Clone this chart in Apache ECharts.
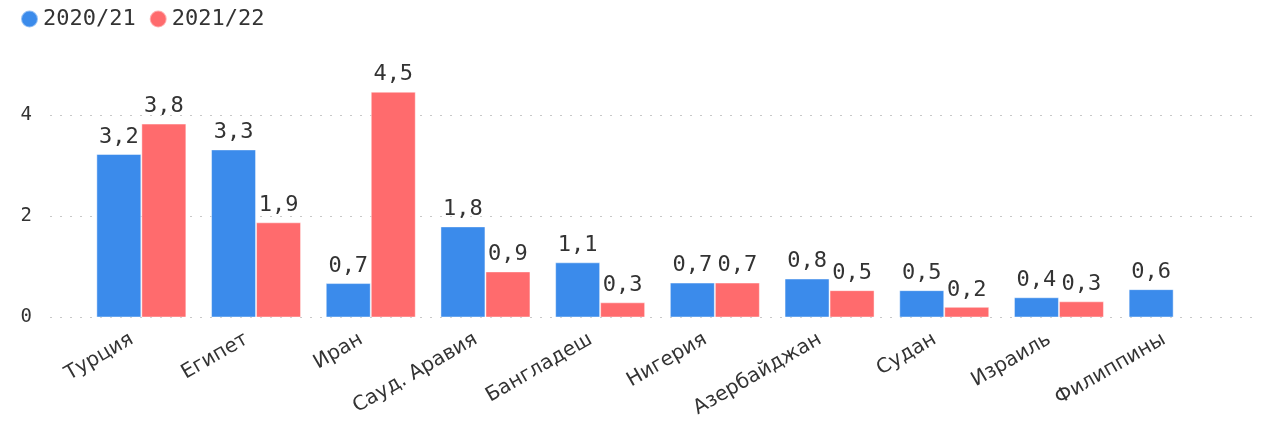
<!DOCTYPE html>
<html>
<head>
<meta charset="utf-8">
<script src="https://cdn.jsdelivr.net/npm/echarts@6/dist/echarts.min.js"></script>
<style>
html,body{margin:0;padding:0;background:#fff;}
#chart{width:1263px;height:429px;}
</style>
</head>
<body>
<div id="chart"></div>
<script>
const categories = ['Турция','Египет','Иран','Сауд. Аравия','Бангладеш','Нигерия','Азербайджан','Судан','Израиль','Филиппины'];
const seriesNames = ['2020/21','2021/22'];
const values2020 = [3.23, 3.32, 0.68, 1.80, 1.09, 0.69, 0.77, 0.54, 0.40, 0.56];
const values2021 = [3.83, 1.88, 4.46, 0.91, 0.30, 0.69, 0.54, 0.21, 0.32, null];
const yTicks = [0, 2, 4];

const colors = ['#3b8beb', '#ff6b6d'];
const mono = '"DejaVu Sans Mono", monospace';
const sans = '"DejaVu Sans", sans-serif';
const fmt = v => (Math.round(v * 10) / 10).toFixed(1).replace('.', ',');

const chart = echarts.init(document.getElementById('chart'), null, {renderer: 'canvas'});
const gridTop = 115, gridBottom = 111.5;
const yMin = yTicks[0], yMax = yTicks[yTicks.length - 1], yInt = yTicks[1] - yTicks[0];

function barSeries(name, data, color) {
  return {
    name: name, type: 'bar', xAxisIndex: 1, yAxisIndex: 1,
    data: data, barWidth: 45, barGap: '0%', clip: false,
    itemStyle: {color: color, borderColor: 'rgba(255,255,255,0.45)', borderWidth: 1},
    label: {show: true, position: 'top', distance: 6, color: '#333',
      fontFamily: mono, fontSize: 22,
      formatter: p => p.value == null ? '' : fmt(p.value)},
    emphasis: {disabled: true}
  };
}

chart.setOption({
  animation: false,
  color: colors,
  textStyle: {fontFamily: mono},
  legend: {
    left: 15, top: 3, icon: 'circle', itemWidth: 17, itemHeight: 17, itemGap: 13,
    textStyle: {fontFamily: mono, fontSize: 22, color: '#333'},
    data: seriesNames
  },
  grid: [
    {left: 50, right: 3, top: gridTop, bottom: gridBottom},
    {left: 84, right: 32, top: gridTop, bottom: gridBottom}
  ],
  xAxis: [
    {gridIndex: 0, type: 'category', data: categories, show: false},
    {gridIndex: 1, type: 'category', data: categories,
      axisLine: {show: false}, axisTick: {show: false},
      axisLabel: {rotate: 30, margin: 15, interval: 0, padding: [0, 11, 0, 0],
        fontFamily: sans, fontSize: 20, color: '#333'}}
  ],
  yAxis: [
    {gridIndex: 0, type: 'value', min: yMin, max: yMax, interval: yInt,
      axisLine: {show: false}, axisTick: {show: false},
      axisLabel: {margin: 18, fontFamily: mono, fontSize: 19, color: '#333'},
      splitLine: {show: true, lineStyle: {type: [2, 8], color: '#c8c8c8', width: 1}}},
    {gridIndex: 1, type: 'value', min: yMin, max: yMax, interval: yInt, show: false,
      splitLine: {show: false}}
  ],
  series: [
    barSeries(seriesNames[0], values2020, colors[0]),
    barSeries(seriesNames[1], values2021, colors[1])
  ]
});
</script>
</body>
</html>
